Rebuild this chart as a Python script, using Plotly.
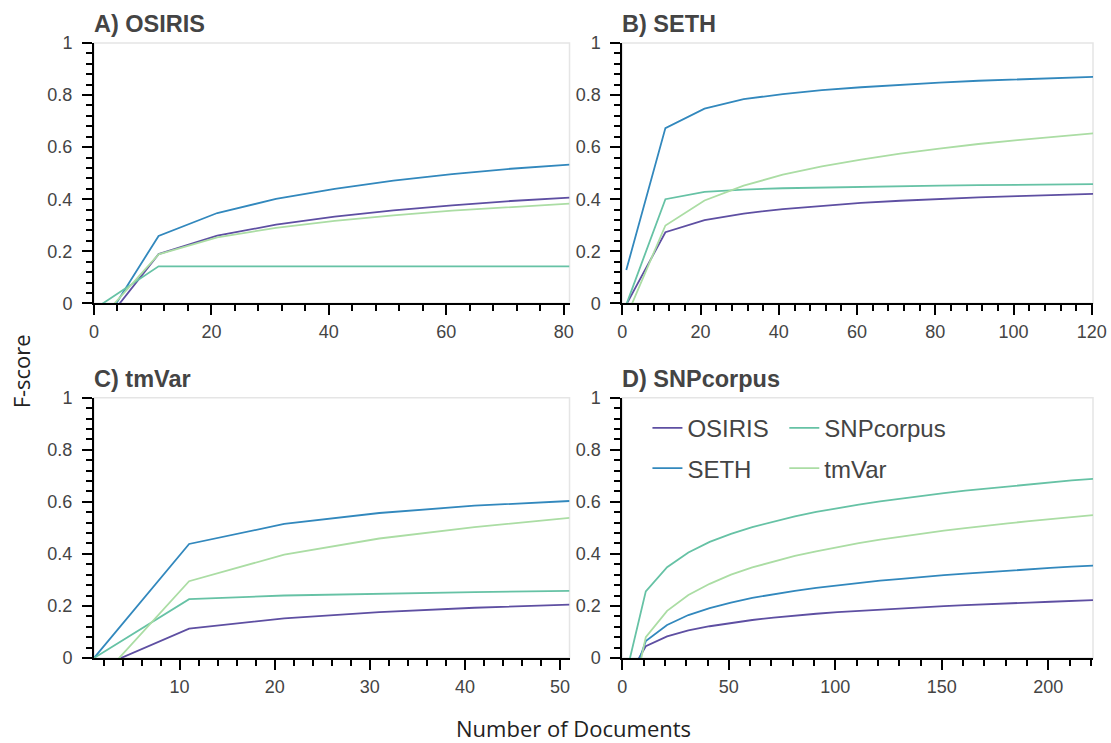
import plotly.graph_objects as go

# ---------------- data ----------------
series_names = ["OSIRIS", "SETH", "SNPcorpus", "tmVar"]
colors = {"OSIRIS": "#5e4fa2", "SETH": "#3288bd", "SNPcorpus": "#66c2a5", "tmVar": "#abdda4"}

# Panel A) OSIRIS corpus
a_docs = [1, 11, 21, 31, 41, 51, 61, 71, 81]
a_osiris = [-0.097, 0.189, 0.260, 0.302, 0.333, 0.357, 0.376, 0.393, 0.406]
a_seth = [-0.100, 0.259, 0.347, 0.401, 0.440, 0.471, 0.496, 0.517, 0.533]
a_snpcorpus = [-0.008, 0.142, 0.142, 0.142, 0.142, 0.142, 0.142, 0.142, 0.142]
a_tmvar = [-0.063, 0.188, 0.253, 0.290, 0.317, 0.338, 0.356, 0.370, 0.383]

# Panel B) SETH corpus
b_docs = [1, 11, 21, 31, 41, 51, 61, 71, 81, 91, 101, 111, 121]
b_osiris = [-0.005, 0.273, 0.320, 0.345, 0.362, 0.375, 0.386, 0.394, 0.401, 0.407, 0.412, 0.417, 0.421]
b_seth = [0.128, 0.673, 0.748, 0.784, 0.804, 0.819, 0.830, 0.840, 0.848, 0.855, 0.860, 0.865, 0.870]
b_snpcorpus = [-0.005, 0.400, 0.428, 0.437, 0.442, 0.445, 0.448, 0.450, 0.452, 0.454, 0.455, 0.457, 0.458]
b_tmvar = [-0.053, 0.299, 0.395, 0.452, 0.494, 0.526, 0.552, 0.575, 0.594, 0.612, 0.627, 0.641, 0.654]

# Panel C) tmVar corpus
c_docs = [1, 11, 21, 31, 41, 51]
c_osiris = [-0.045, 0.113, 0.152, 0.176, 0.193, 0.205]
c_seth = [0.0, 0.438, 0.515, 0.557, 0.585, 0.603]
c_snpcorpus = [0.0, 0.226, 0.240, 0.247, 0.253, 0.258]
c_tmvar = [-0.106, 0.295, 0.397, 0.459, 0.503, 0.538]

# Panel D) SNPcorpus corpus
d_docs = [1, 11, 21, 31, 41, 51, 61, 71, 81, 91, 101, 111, 121, 131, 141, 151,
          161, 171, 181, 191, 201, 211, 221]
d_osiris = [-0.097, 0.045, 0.083, 0.106, 0.122, 0.135, 0.146, 0.155, 0.163, 0.170, 0.176, 0.181,
            0.186, 0.191, 0.195, 0.199, 0.203, 0.207, 0.210, 0.213, 0.216, 0.219, 0.222]
d_seth = [-0.167, 0.065, 0.127, 0.165, 0.192, 0.213, 0.231, 0.245, 0.258, 0.269, 0.279, 0.288,
          0.297, 0.304, 0.312, 0.318, 0.324, 0.330, 0.336, 0.341, 0.346, 0.351, 0.355]
d_snpcorpus = [-0.089, 0.256, 0.349, 0.405, 0.446, 0.477, 0.503, 0.525, 0.544, 0.561, 0.576, 0.589,
               0.602, 0.613, 0.624, 0.633, 0.643, 0.651, 0.660, 0.667, 0.675, 0.682, 0.688]
d_tmvar = [-0.295, 0.080, 0.181, 0.242, 0.285, 0.320, 0.348, 0.371, 0.392, 0.410, 0.426, 0.441,
           0.455, 0.467, 0.479, 0.489, 0.499, 0.509, 0.517, 0.526, 0.534, 0.541, 0.549]

panel_titles = ["A) OSIRIS", "B) SETH", "C) tmVar", "D) SNPcorpus"]
y_ticks = [0, 0.2, 0.4, 0.6, 0.8, 1]
y_labels = ["0", "0.2", "0.4", "0.6", "0.8", "1"]

panels = [
    (a_docs, {"OSIRIS": a_osiris, "SETH": a_seth, "SNPcorpus": a_snpcorpus, "tmVar": a_tmvar}),
    (b_docs, {"OSIRIS": b_osiris, "SETH": b_seth, "SNPcorpus": b_snpcorpus, "tmVar": b_tmvar}),
    (c_docs, {"OSIRIS": c_osiris, "SETH": c_seth, "SNPcorpus": c_snpcorpus, "tmVar": c_tmvar}),
    (d_docs, {"OSIRIS": d_osiris, "SETH": d_seth, "SNPcorpus": d_snpcorpus, "tmVar": d_tmvar}),
]

# ---------------- layout geometry ----------------
col_domains = [[0.0, 0.476], [0.5289, 1.0]]
row_domains = [[0.5767, 1.0], [0.0, 0.4233]]
x_ranges = [[0, 81], [0, 120.3], [1, 51], [0, 221]]
x_dticks = [20, 20, 10, 50]
x_minor = [4, 4, 2, 10]

fig = go.Figure()

legend_of = {"OSIRIS": "legend", "SETH": "legend", "SNPcorpus": "legend2", "tmVar": "legend2"}

for i, (docs, data) in enumerate(panels):
    ax = "" if i == 0 else str(i + 1)
    for name in series_names:
        fig.add_trace(go.Scatter(
            x=docs, y=data[name], mode="lines", name=name,
            line=dict(color=colors[name], width=1.8),
            xaxis="x" + ax, yaxis="y" + ax,
            showlegend=(i == 3), legend=legend_of[name], legendgroup=name,
            hoverinfo="x+y+name",
        ))

tick_font = dict(family="Liberation Sans, Arial, sans-serif", size=18, color="#444444")
axis_common = dict(
    showline=True, linecolor="black", linewidth=2, mirror=False,
    ticks="outside", ticklen=10, tickwidth=2, tickcolor="black",
    showgrid=False, zeroline=False, tickfont=tick_font,
)
inner_common = dict(
    showline=False, ticks="inside", ticklen=4, tickwidth=2, tickcolor="black",
    showgrid=False, zeroline=False, showticklabels=False,
)

layout_axes = {}
shapes = []
annotations = []
for i in range(4):
    r, c = divmod(i, 2)
    ax = "" if i == 0 else str(i + 1)
    layout_axes["xaxis" + ax] = dict(
        axis_common, domain=col_domains[c], anchor="y" + ax, range=x_ranges[i],
        tick0=0, dtick=x_dticks[i], ticklabelstandoff=1, ticklabeloverflow="allow",
        minor=dict(ticks="outside", ticklen=6, tickwidth=1.5, tickcolor="black",
                   tick0=0, dtick=x_minor[i], showgrid=False),
    )
    layout_axes["yaxis" + ax] = dict(
        axis_common, domain=row_domains[r], anchor="x" + ax, range=[0, 1],
        tickvals=y_ticks, ticktext=y_labels, ticklabelstandoff=6,
        minor=dict(ticks="outside", ticklen=6, tickwidth=1.5, tickcolor="black",
                   tick0=0, dtick=0.04, showgrid=False),
    )
    # short inward halves of the major ticks
    ox = str(i + 5)
    layout_axes["xaxis" + ox] = dict(
        inner_common, domain=col_domains[c], anchor="y" + ax, overlaying="x" + ax,
        side="bottom", range=x_ranges[i], tick0=0, dtick=x_dticks[i],
    )
    layout_axes["yaxis" + ox] = dict(
        inner_common, domain=row_domains[r], anchor="x" + ax, overlaying="y" + ax,
        side="left", range=[0, 1], tickvals=y_ticks,
    )
    # light outline around each plot frame
    shapes.append(dict(type="rect", xref="x" + ax + " domain", yref="y" + ax + " domain",
                       x0=0, x1=1, y0=0, y1=1, line=dict(color="#e5e5e5", width=1.5),
                       layer="below"))
    annotations.append(dict(
        text="<b>" + panel_titles[i] + "</b>", xref="paper", yref="paper",
        x=col_domains[c][0], y=row_domains[r][1], xanchor="left", yanchor="bottom",
        yshift=4, xshift=-2, showarrow=False,
        font=dict(family="Liberation Sans, Arial, sans-serif", size=23.5, color="#444444"),
    ))

annotations.append(dict(
    text="Number of Documents", xref="paper", yref="paper", x=0.48, y=-0.1138,
    xanchor="center", yanchor="middle", showarrow=False,
    font=dict(family="Open Sans, sans-serif", size=22, color="#222222"),
))
annotations.append(dict(
    text="F-score", xref="paper", yref="paper", x=-0.0727, y=0.4667,
    xanchor="center", yanchor="middle", showarrow=False, textangle=-90,
    font=dict(family="Open Sans, sans-serif", size=22, color="#222222"),
))

legend_style = dict(
    bgcolor="rgba(0,0,0,0)", borderwidth=0, orientation="v", tracegroupgap=6,
    font=dict(family="Liberation Sans, Arial, sans-serif", size=24, color="#444444"),
    xanchor="left", yanchor="top", itemclick=False, itemdoubleclick=False,
)

fig.update_layout(
    width=1111, height=743, autosize=False,
    margin=dict(l=94, r=4, t=43, b=85),
    paper_bgcolor="white", plot_bgcolor="white",
    shapes=shapes, annotations=annotations,
    legend=dict(legend_style, x=0.554, y=0.41),
    legend2=dict(legend_style, x=0.691, y=0.41),
    **layout_axes,
)

# remove the page's default body margin so the figure sits at the window's corner
fig.write_html(
    "out.html",
    config={"displayModeBar": False, "responsive": False},
    post_script="document.body.style.margin='0';document.body.style.overflow='hidden';",
)
